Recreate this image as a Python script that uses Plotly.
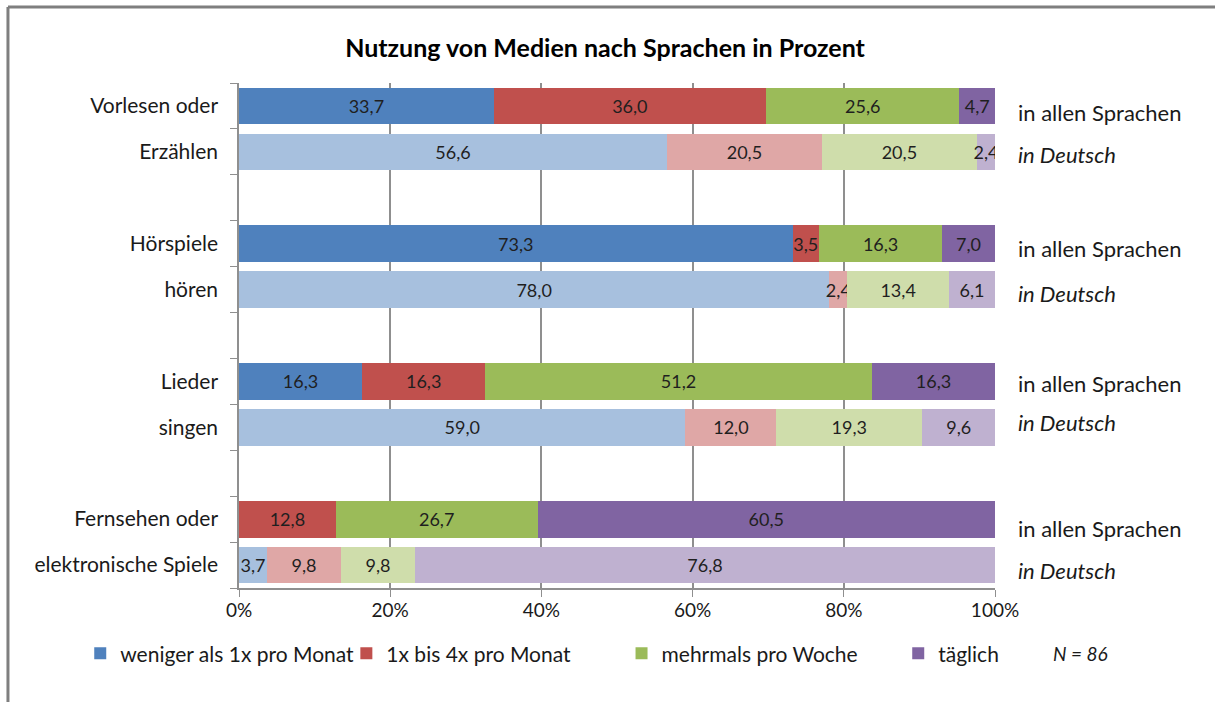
import plotly.graph_objects as go

# ---- data ----
row_labels = ["Vorlesen oder", "Erzählen", "Hörspiele", "hören", "Lieder", "singen",
              "Fernsehen oder", "elektronische Spiele"]
row_pos = [0, 1, 3, 4, 6, 7, 9, 10]
row_kind = ["in allen Sprachen", "in Deutsch"] * 4

series_names = ["weniger als 1x pro Monat", "1x bis 4x pro Monat", "mehrmals pro Woche", "täglich"]
weniger = [33.7, 56.6, 73.3, 78.0, 16.3, 59.0, 0.0, 3.7]
monatlich = [36.0, 20.5, 3.5, 2.4, 16.3, 12.0, 12.8, 9.8]
woche = [25.6, 20.5, 16.3, 13.4, 51.2, 19.3, 26.7, 9.8]
taeglich = [4.7, 2.4, 7.0, 6.1, 16.3, 9.6, 60.5, 76.8]
series_values = [weniger, monatlich, woche, taeglich]

x_tickvals = [0, 20, 40, 60, 80, 100]
x_ticktext = ["0%", "20%", "40%", "60%", "80%", "100%"]

dark_colors = ["#4F81BD", "#C0504D", "#9BBB59", "#8064A2"]
light_colors = ["#A7C0DE", "#DFA7A6", "#CFDDAB", "#BFB1D0"]
legend_ids = ["legend", "legend2", "legend3", "legend4"]
legend_x = [-0.210, 0.142, 0.506, 0.872]
note_yshift = [-7, -3, -5, -4, -2, 5, -9, -5]

FONT = "Lato"
GRAY = "#8f8f8f"

def fmt(v):
    return "" if v == 0 else f"{v:.1f}".replace(".", ",")

fig = go.Figure()
for name, vals, dc, lc, lid in zip(series_names, series_values, dark_colors, light_colors, legend_ids):
    cols = [dc if i % 2 == 0 else lc for i in range(len(vals))]
    fig.add_trace(go.Bar(
        name=name, y=row_pos, x=vals, orientation="h",
        marker=dict(color=cols, line=dict(width=0)),
        text=[fmt(v) for v in vals], textposition="inside", textangle=0,
        insidetextanchor="middle",
        textfont=dict(family=FONT, size=18, color="#1f1f1f"),
        hoverinfo="skip", legend=lid,
    ))

layout_legends = {}
for lid, lx in zip(legend_ids, legend_x):
    layout_legends[lid] = dict(orientation="h", x=lx, xanchor="left", y=-0.13, yanchor="middle",
                               font=dict(family=FONT, size=21, color="#1a1a1a"),
                               itemclick=False, bgcolor="rgba(0,0,0,0)")

fig.update_layout(
    barmode="stack", barnorm="percent", bargap=0.2,
    width=1215, height=702,
    paper_bgcolor="white", plot_bgcolor="white",
    margin=dict(l=239, r=220, t=83, b=114, autoexpand=False),
    font=dict(family=FONT, size=20, color="#1a1a1a"),
    title=dict(text="<b>Nutzung von Medien nach Sprachen in Prozent</b>",
               x=0.498, xanchor="center", y=0.931, yanchor="middle",
               font=dict(family=FONT, size=25, color="#000")),
    uniformtext=dict(minsize=18, mode="show"),
    showlegend=True,
    **layout_legends,
)
fig.update_xaxes(range=[0, 100], tickmode="array", tickvals=x_tickvals, ticktext=x_ticktext,
                 showgrid=True, gridcolor=GRAY, gridwidth=1.5,
                 showline=True, linecolor=GRAY, linewidth=1.5,
                 ticks="outside", ticklen=7, tickcolor=GRAY,
                 ticklabelstandoff=-3,
                 tickfont=dict(family=FONT, size=19), zeroline=False, automargin=False)
fig.update_yaxes(range=[10.5, -0.5], tickmode="array", tickvals=row_pos, ticktext=row_labels,
                 ticks="", showgrid=False, zeroline=False,
                 showline=True, linecolor=GRAY, linewidth=1.5,
                 ticklabelstandoff=15, tickfont=dict(family=FONT, size=21),
                 automargin=False,
                 minor=dict(tickmode="linear", tick0=-0.5, dtick=1, ticks="outside",
                            ticklen=7, tickcolor=GRAY, showgrid=False))

for p, k, ys in zip(row_pos, row_kind, note_yshift):
    fig.add_annotation(x=1.028, xref="paper", y=p, yref="y", yshift=ys,
                       text=(k if k != "in Deutsch" else "<i>in Deutsch</i>"),
                       showarrow=False, xanchor="left", yanchor="middle",
                       font=dict(family=FONT, size=22, color="#1a1a1a"))

fig.add_annotation(x=1.074, xref="paper", y=-0.13, yref="paper", text="<i>N = 86</i>",
                   showarrow=False, xanchor="left", yanchor="middle",
                   font=dict(family=FONT, size=19, color="#1a1a1a"))

# outer frame (top and left edges)
fig.add_shape(type="line", xref="paper", yref="paper", x0=-0.3056, x1=1.30, y0=1.1505, y1=1.1505,
              line=dict(color="#7f7f7f", width=3))
fig.add_shape(type="line", xref="paper", yref="paper", x0=-0.3056, x1=-0.3056, y0=1.1505, y1=-0.24,
              line=dict(color="#7f7f7f", width=3))

fig.write_html("out.html", config={"displayModeBar": False},
               post_script="document.body.style.margin='0';")
